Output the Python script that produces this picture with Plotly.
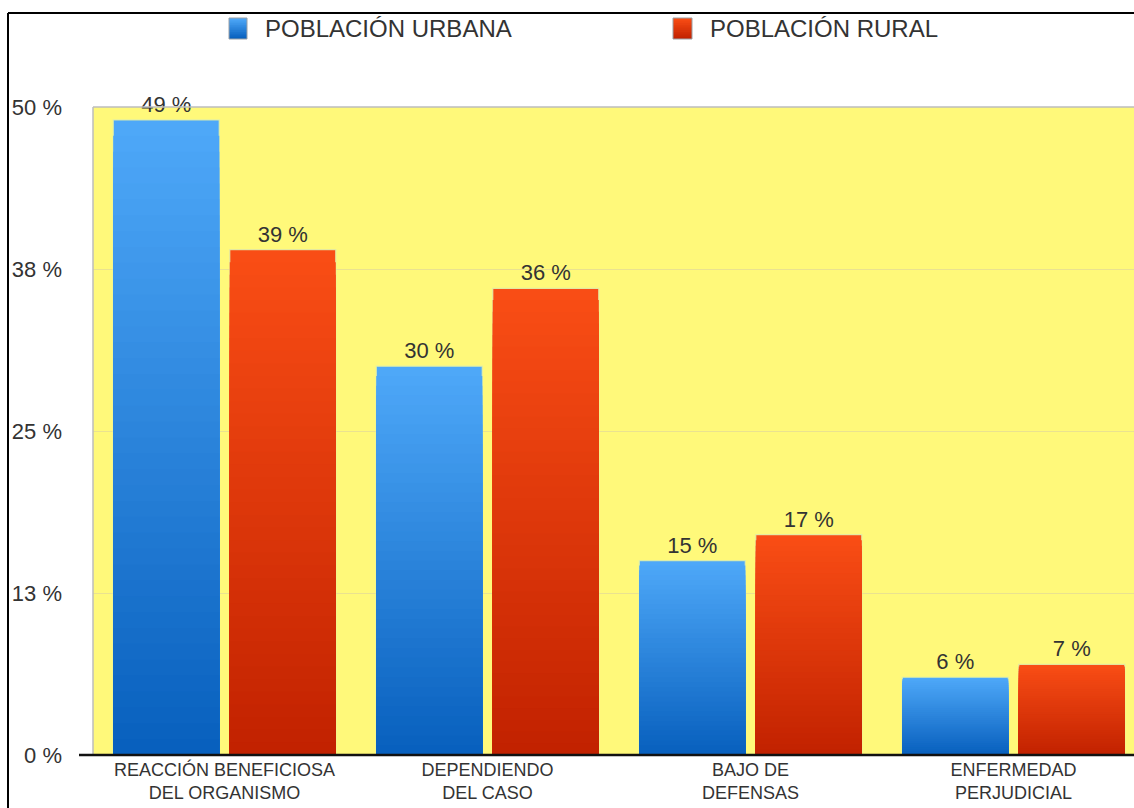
import plotly.graph_objects as go

# ---- data ----
categories = [
    "REACCIÓN BENEFICIOSA<br>DEL ORGANISMO",
    "DEPENDIENDO<br>DEL CASO",
    "BAJO DE<br>DEFENSAS",
    "ENFERMEDAD<br>PERJUDICIAL",
]
urbana = [49, 30, 15, 6]
rural = [39, 36, 17, 7]
series_names = ["POBLACIÓN URBANA", "POBLACIÓN RURAL"]
y_tickvals = [0, 12.5, 25, 37.5, 50]
y_ticktext = ["0 %", "13 %", "25 %", "38 %", "50 %"]

# ---- geometry / style ----
W, H = 1134, 808
L, R, T, B = 93, 0, 107, 53
FONT = "Liberation Sans, Arial, Helvetica, sans-serif"
TXT = "#333333"
BG_PLOT = "#FFF97A"
STEPS = 40

blue_top, blue_bot = "#4EA8F8", "#0860BE"
red_top, red_bot = "#F94D15", "#C22200"


def hex2rgb(h):
    h = h.lstrip("#")
    return tuple(int(h[i:i + 2], 16) for i in (0, 2, 4))


def lerp(c1, c2, t):
    a, b = hex2rgb(c1), hex2rgb(c2)
    return "rgb({},{},{})".format(*[round(a[i] + (b[i] - a[i]) * t) for i in range(3)])


def px_x(p):
    return (p - L) / (W - L - R)


def px_y(p):
    return (H - B - p) / (H - T - B)


fig = go.Figure()

# Each series is drawn as a stack of overlaid bars, each a little shorter and
# darker than the previous one, which gives the vertical colour gradient.
for name, values, top, bot, grp in [
    (series_names[0], urbana, blue_top, blue_bot, "u"),
    (series_names[1], rural, red_top, red_bot, "r"),
]:
    for k in range(STEPS):
        frac = (STEPS - k) / STEPS
        first = k == 0
        fig.add_trace(
            go.Bar(
                x=categories,
                y=[v * frac for v in values],
                name=name,
                offsetgroup=grp,
                legendgroup=grp,
                showlegend=False,
                marker=dict(
                    color=lerp(top, bot, k / (STEPS - 1)),
                    line=dict(color="rgba(225,240,170,0.9)" if first else "rgba(0,0,0,0)",
                              width=1.2 if first else 0),
                ),
                text=[f"{v} %" for v in values] if first else None,
                texttemplate="%{text}" if first else None,
                textposition="outside" if first else "none",
                textfont=dict(family=FONT, size=22, color=TXT),
                cliponaxis=False,
                hoverinfo="skip" if not first else "x+y",
            )
        )

shapes = []
# outer frame (top and left)
shapes.append(dict(type="line", xref="paper", yref="paper",
                   x0=px_x(8), x1=px_x(W + 5), y0=px_y(13), y1=px_y(13),
                   line=dict(color="#000000", width=2)))
shapes.append(dict(type="line", xref="paper", yref="paper",
                   x0=px_x(8), x1=px_x(8), y0=px_y(13), y1=px_y(H + 5),
                   line=dict(color="#000000", width=2)))
# plot-area border (top, left) in grey
shapes.append(dict(type="line", xref="paper", yref="paper",
                   x0=0, x1=1.01, y0=1, y1=1,
                   line=dict(color="#BDBDBD", width=1.5)))
shapes.append(dict(type="line", xref="paper", yref="paper",
                   x0=0, x1=0, y0=0, y1=1,
                   line=dict(color="#BDBDBD", width=1.5)))
# baseline
shapes.append(dict(type="line", xref="paper", yref="paper",
                   x0=px_x(79), x1=1.01, y0=0, y1=0,
                   line=dict(color="#111111", width=2.5)))

# legend swatches with gradient
annotations = []
for name, x0, x1, top, bot in [
    (series_names[0], 229, 247, blue_top, blue_bot),
    (series_names[1], 673, 692, red_top, red_bot),
]:
    y0, y1 = 18, 39
    n = 12
    for k in range(n):
        yy = y0 + (y1 - y0) * k / n
        shapes.append(dict(type="rect", xref="paper", yref="paper",
                           x0=px_x(x0), x1=px_x(x1), y0=px_y(y1), y1=px_y(yy),
                           fillcolor=lerp(top, bot, k / (n - 1)), line=dict(width=0)))
    shapes.append(dict(type="rect", xref="paper", yref="paper",
                       x0=px_x(x0), x1=px_x(x1), y0=px_y(y1), y1=px_y(y0),
                       fillcolor="rgba(0,0,0,0)", line=dict(color="#9AA0A6", width=1)))
    annotations.append(dict(text=name, xref="paper", yref="paper",
                            x=px_x(x1 + 16), y=px_y(29), xanchor="left", yanchor="middle",
                            showarrow=False, font=dict(family=FONT, size=24, color=TXT)))

fig.update_layout(
    width=W, height=H,
    margin=dict(l=L, r=R, t=T, b=B, pad=0, autoexpand=False),
    paper_bgcolor="#FFFFFF",
    plot_bgcolor=BG_PLOT,
    barmode="group",
    bargap=0.114,
    bargroupgap=0.09,
    showlegend=False,
    shapes=shapes,
    annotations=annotations,
    font=dict(family=FONT, color=TXT),
    xaxis=dict(
        type="category",
        range=[-0.5, 3.458],
        automargin=False,
        showgrid=False,
        showline=False,
        zeroline=False,
        ticks="",
        ticklabelstandoff=2,
        tickfont=dict(family=FONT, size=18, color=TXT),
    ),
    yaxis=dict(
        range=[0, 50],
        automargin=False,
        tickvals=y_tickvals,
        ticktext=y_ticktext,
        showgrid=True,
        gridcolor="#EAE290",
        gridwidth=1,
        zeroline=False,
        showline=False,
        ticks="",
        ticklabelstandoff=30,
        tickfont=dict(family=FONT, size=22, color=TXT),
    ),
)

fig.write_html("out.html")
